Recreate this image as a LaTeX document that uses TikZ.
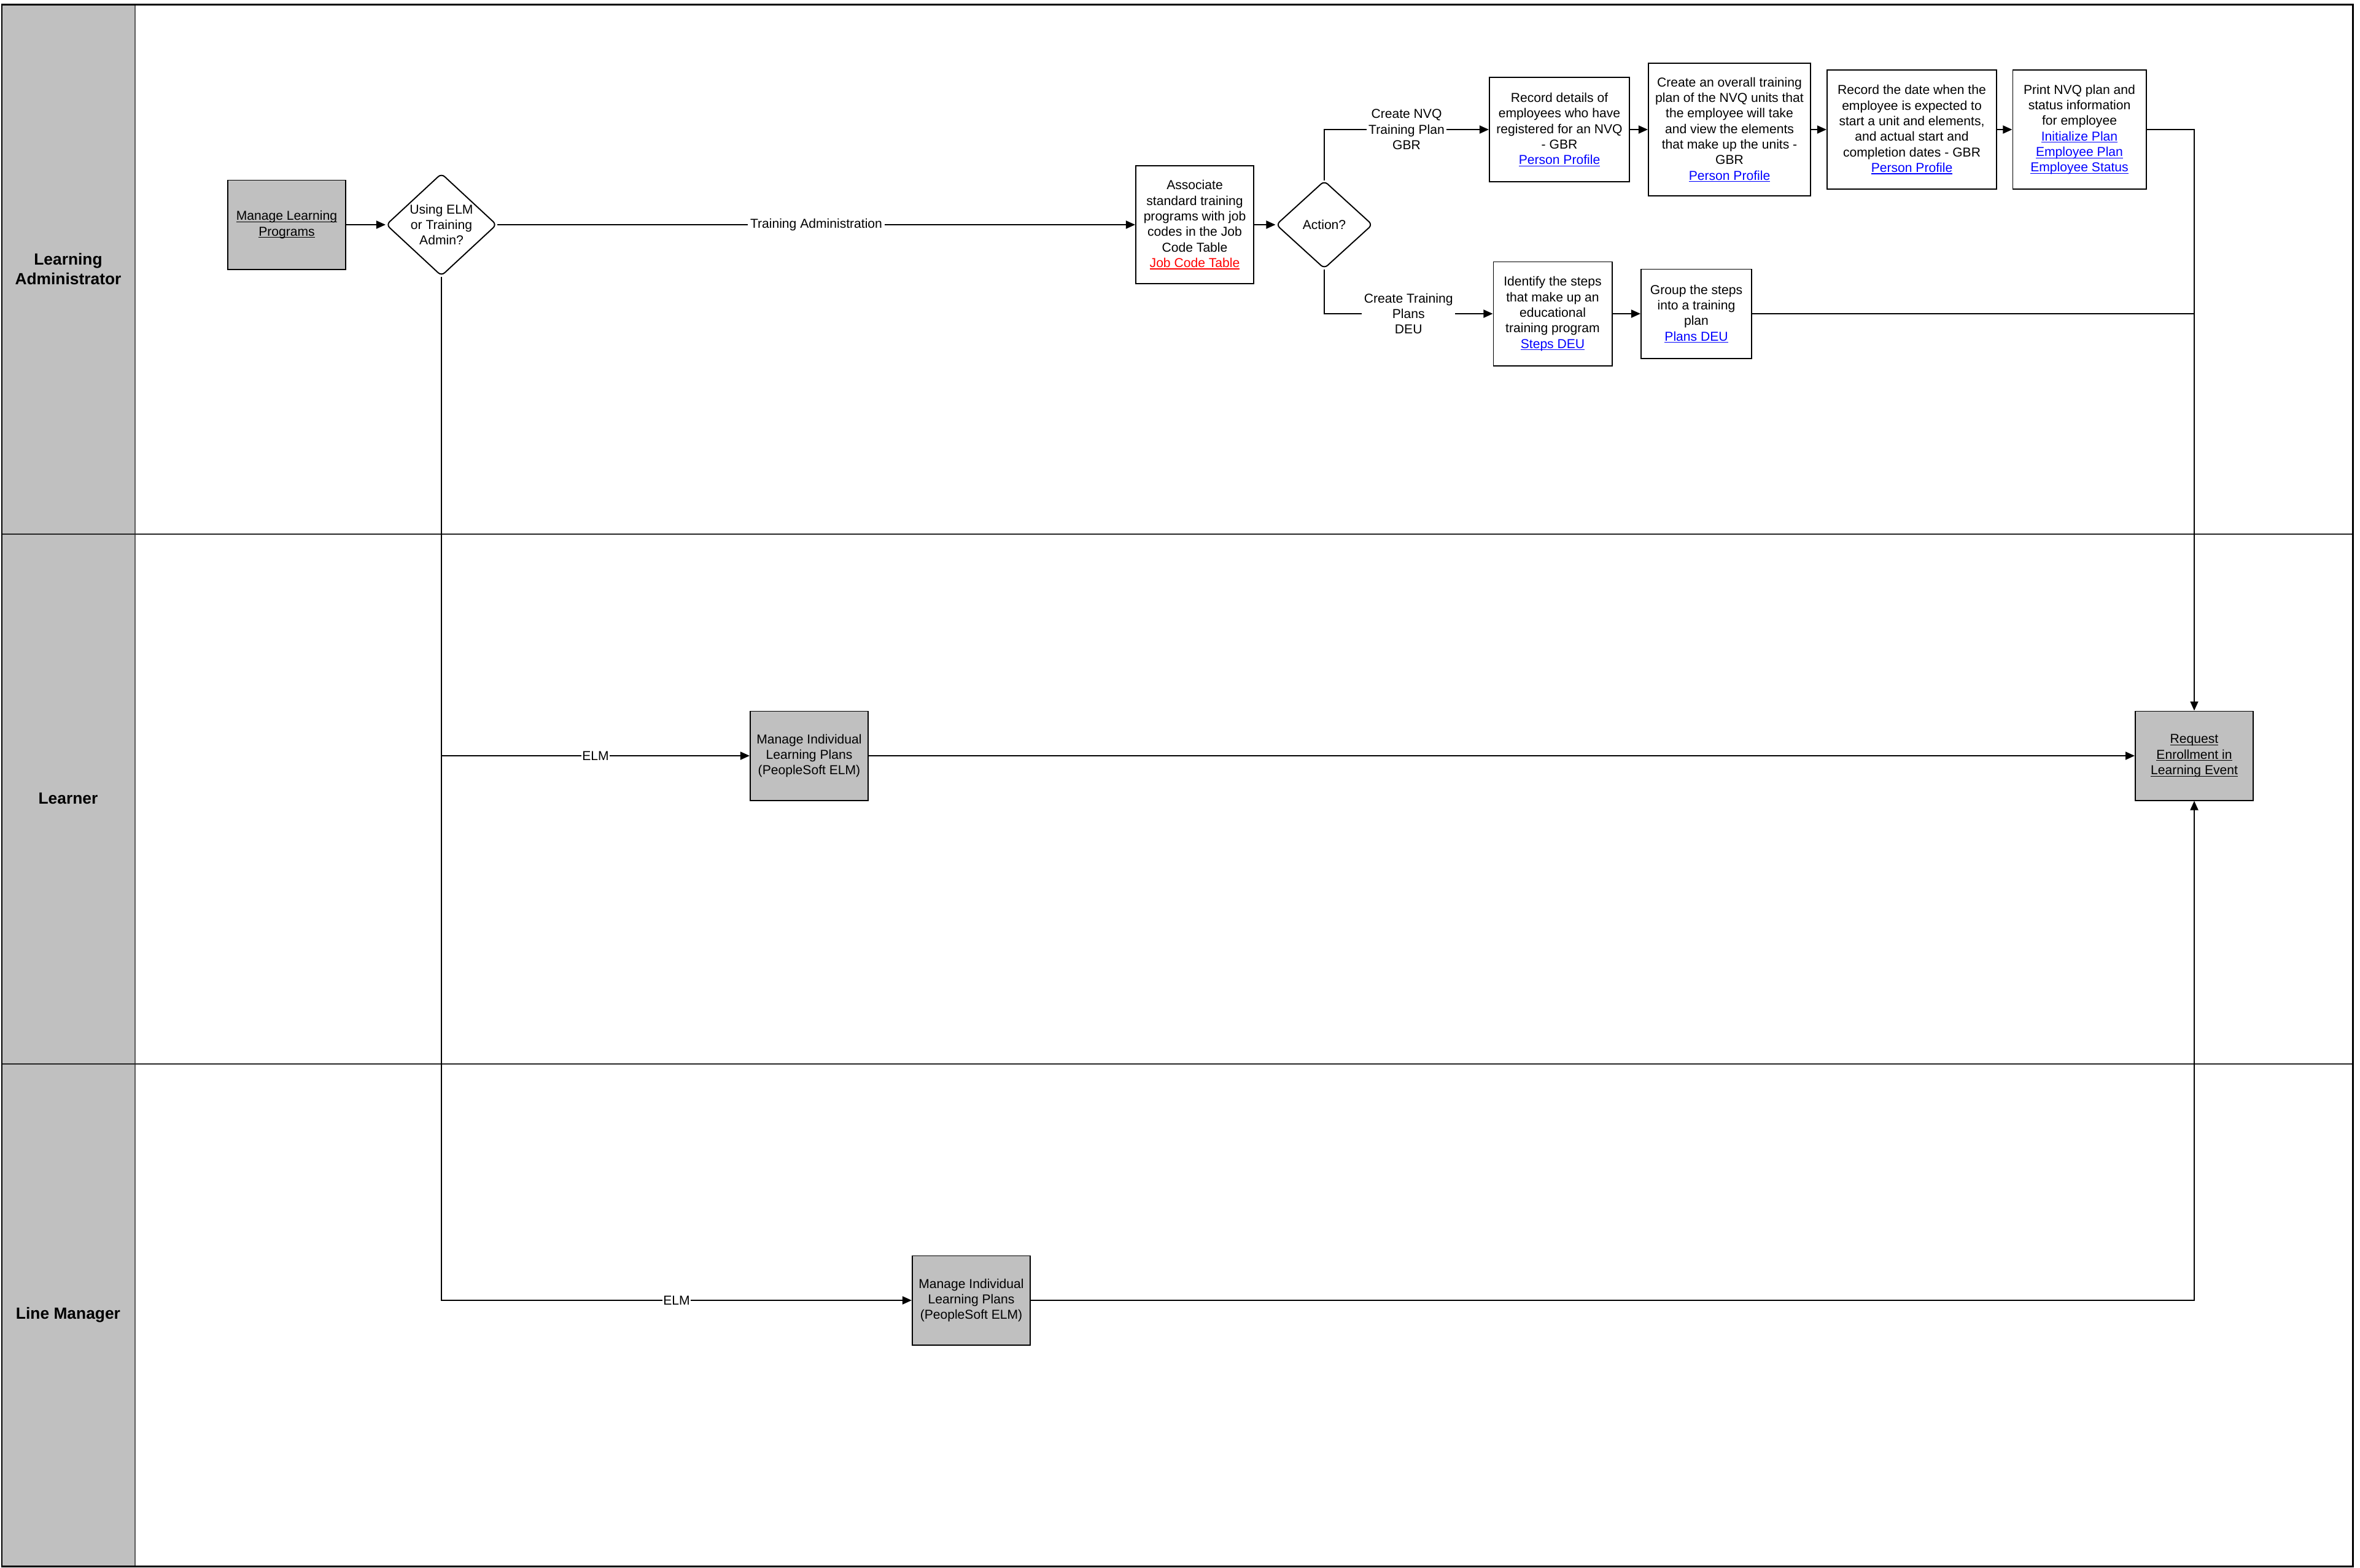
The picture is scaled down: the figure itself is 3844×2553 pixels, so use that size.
\documentclass[tikz,border=0pt]{standalone}
\usepackage{fontspec}
\setmainfont{Liberation Sans}
\usetikzlibrary{arrows.meta,shapes.geometric}
\definecolor{hdr}{RGB}{192,192,192}
\definecolor{sep}{RGB}{90,90,90}
\definecolor{lnk}{RGB}{0,0,255}
\definecolor{lnkred}{RGB}{255,0,0}
\newcommand\undl[1]{\leavevmode\setbox0\hbox{#1}\rlap{\rule[-0.9pt]{\wd0}{0.3pt}}\box0}
\newcommand\blnk[1]{\textcolor{lnk}{\undl{#1}}}
\newcommand\rlnk[1]{\textcolor{lnkred}{\undl{#1}}}
\newcommand\nfont{\fontsize{6}{7.2}\selectfont}
\newcommand\lfont{\fontsize{7.5}{9.1}\selectfont\bfseries}
\tikzset{
  box/.style={draw, line width=0.55pt, fill=white, align=center, inner sep=0pt, font=\nfont},
  gbox/.style={box, fill=hdr},
  dia/.style={draw, line width=0.55pt, fill=white, shape=diamond, aspect=1.08, inner sep=0pt, align=center, font=\nfont, rounded corners=2pt},
  conn/.style={line width=0.55pt},
  arr/.style={conn, -{Triangle[length=0.15cm,width=0.13cm]}},
  elab/.style={fill=white, inner sep=1pt, align=center, font=\nfont},
  lanelab/.style={font=\lfont, align=center}
}
\begin{document}
\begin{tikzpicture}[x=0.01cm, y=-0.01cm]
\useasboundingbox (0,0) rectangle (3844,2553);
% swimlanes
\fill[hdr] (3,7) rectangle (220,2551);
\draw[sep, line width=0.6pt] (220,7) -- (220,2551);
\draw[black!85, line width=0.4pt] (3,870) -- (3832,870);
\draw[black!85, line width=0.4pt] (3,1733) -- (3832,1733);
\draw[line width=0.85pt] (3,7) rectangle (3832,2551);
\node[lanelab] (l1) at (111,438) {Learning\\Administrator};
\node[lanelab] (l2) at (111,1301) {Learner};
\node[lanelab] (l3) at (111,2142) {Line Manager};

% nodes
\node[gbox, minimum width=1.92cm, minimum height=1.45cm] (mlp) at (467,366) {\undl{Manage Learning}\\\undl{Programs}};
\node[dia, minimum width=1.80cm, minimum height=1.67cm] (ue) at (719,366) {Using ELM\\or Training\\Admin?};
\node[box, minimum width=1.92cm, minimum height=1.91cm] (assoc) at (1946,366) {Associate\\standard training\\programs with job\\codes in the Job\\Code Table\\\rlnk{Job Code Table}};
\node[dia, minimum width=1.57cm, minimum height=1.43cm] (act) at (2157,366) {Action?};
\node[box, minimum width=2.28cm, minimum height=1.69cm] (rec) at (2540,211) {Record details of\\employees who have\\registered for an NVQ\\- GBR\\\blnk{Person Profile}};
\node[box, minimum width=2.64cm, minimum height=2.16cm] (ov) at (2817,211) {Create an overall training\\plan of the NVQ units that\\the employee will take\\and view the elements\\that make up the units -\\GBR\\\blnk{Person Profile}};
\node[box, minimum width=2.76cm, minimum height=1.93cm] (date) at (3114,211) {Record the date when the\\employee is expected to\\start a unit and elements,\\and actual start and\\completion dates - GBR\\\blnk{Person Profile}};
\node[box, minimum width=2.17cm, minimum height=1.93cm] (print) at (3387,211) {Print NVQ plan and\\status information\\for employee\\\blnk{Initialize Plan}\\\blnk{Employee Plan}\\\blnk{Employee Status}};
\node[box, minimum width=1.93cm, minimum height=1.69cm] (ident) at (2529,511) {Identify the steps\\that make up an\\educational\\training program\\\blnk{Steps DEU}};
\node[box, minimum width=1.80cm, minimum height=1.45cm] (group) at (2763,511) {Group the steps\\into a training\\plan\\\blnk{Plans DEU}};
\node[gbox, minimum width=1.92cm, minimum height=1.45cm] (lilp) at (1318,1231) {Manage Individual\\Learning Plans\\(PeopleSoft ELM)};
\node[gbox, minimum width=1.92cm, minimum height=1.45cm] (lmilp) at (1582,2118) {Manage Individual\\Learning Plans\\(PeopleSoft ELM)};
\node[gbox, minimum width=1.92cm, minimum height=1.45cm] (req) at (3574,1231) {\undl{Request}\\\undl{Enrollment in}\\\undl{Learning Event}};

% connectors
\draw[arr] (mlp.east) -- (ue.west);
\draw[arr] (ue.east) -- node[elab] {Training Administration} (assoc.west);
\draw[arr] (assoc.east) -- (act.west);
\draw[arr] (act.north) |- node[elab, pos=0.75] {Create NVQ\\Training Plan\\GBR} (rec.west);
\draw[arr] (rec.east) -- (ov.west |- rec.east);
\draw[arr] (ov.east |- date.west) -- (date.west);
\draw[arr] (date.east) -- (print.west);
\draw[arr] (act.south) |- node[elab, pos=0.75] {Create Training\\Plans\\DEU} (ident.west);
\draw[arr] (ident.east) -- (group.west);
\draw[arr] (print.east) -| (req.north);
\draw[conn] (group.east) -- (group.east -| req.north);
\draw[arr] (ue.south) |- node[elab, pos=0.75, inner sep=0.5pt] {ELM} (lmilp.west);
\draw[arr] (ue.south |- lilp.west) -- node[elab, inner sep=0.5pt] {ELM} (lilp.west);
\draw[arr] (lilp.east) -- (req.west);
\draw[arr] (lmilp.east) -| (req.south);
\end{tikzpicture}
\end{document}
